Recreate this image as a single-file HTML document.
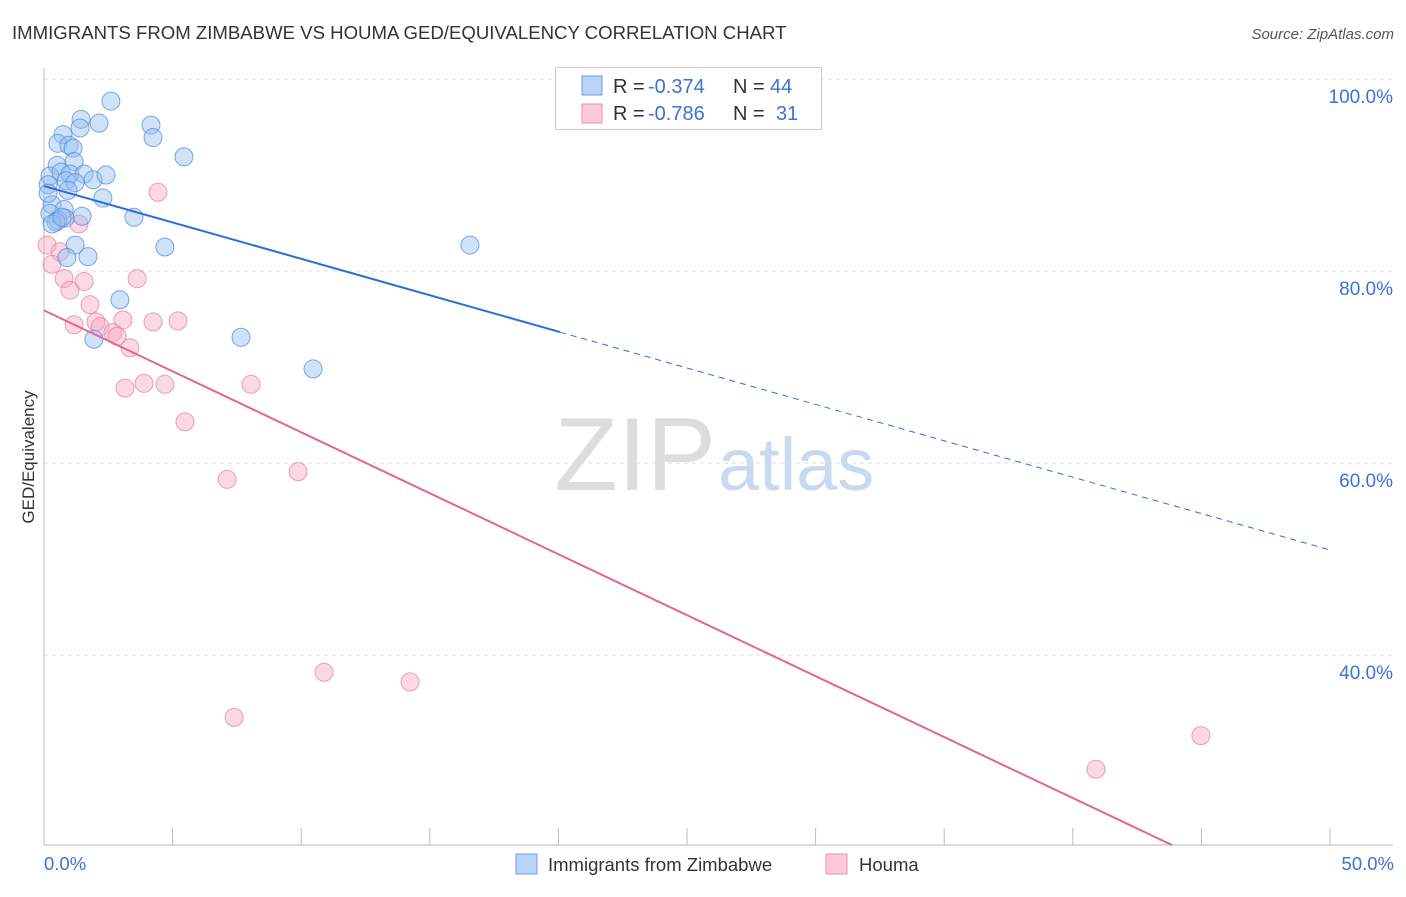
<!DOCTYPE html>
<html><head><meta charset="utf-8"><style>
body{margin:0;background:#fff;font-family:"Liberation Sans",sans-serif;}
svg text{font-family:"Liberation Sans",sans-serif;}
</style></head><body>
<svg id="c" width="1406" height="892">
<text x="12" y="39" font-size="18.6" fill="#333">IMMIGRANTS FROM ZIMBABWE VS HOUMA GED/EQUIVALENCY CORRELATION CHART</text>
<text x="1394" y="39" font-size="15" fill="#555" font-style="italic" text-anchor="end">Source: ZipAtlas.com</text>
<text x="716" y="490" font-size="104" fill="#ddd" text-anchor="end" font-family="Liberation Serif">ZIP</text>
<text x="718" y="490" font-size="74" fill="#c9d9ef">atlas</text>
<g id="grid"></g>
<g id="marks"></g>
<text transform="translate(34,457) rotate(-90)" font-size="17" fill="#333" text-anchor="middle">GED/Equivalency</text>
<text x="44" y="870" font-size="18.5" fill="#3b72d6">0.0%</text>
<text x="1394" y="870" font-size="18.5" fill="#3b72d6" text-anchor="end">50.0%</text>
<g>
<rect x="555.5" y="67.5" width="266" height="62" fill="#fff" stroke="#ccc"/>
<rect x="582" y="76" width="20" height="19" fill="#b8d3f5" stroke="#6b9be0"/>
<rect x="582" y="104" width="20" height="19" fill="#fbc9d7" stroke="#ea8fab"/>
<text x="613" y="93" font-size="20" fill="#333">R =</text>
<text x="648" y="93" font-size="20" fill="#3b72d6">-0.374</text>
<text x="733" y="93" font-size="20" fill="#333">N =</text>
<text x="770" y="93" font-size="20" fill="#3b72d6">44</text>
<text x="613" y="120" font-size="20" fill="#333">R =</text>
<text x="648" y="120" font-size="20" fill="#3b72d6">-0.786</text>
<text x="733" y="120" font-size="20" fill="#333">N =</text>
<text x="776" y="120" font-size="20" fill="#3b72d6">31</text>
</g>
<g>
<rect x="516" y="854" width="21" height="20" fill="#b8d3f5" stroke="#6b9be0"/>
<text x="548" y="871" font-size="18.5" fill="#333">Immigrants from Zimbabwe</text>
<rect x="826" y="854" width="21" height="20" fill="#fbc9d7" stroke="#ea8fab"/>
<text x="859" y="871" font-size="18.5" fill="#333">Houma</text>
</g>
</svg>
<script>
const blueX=[2.60,1.44,1.40,2.14,4.16,4.24,0.74,0.54,0.97,1.13,5.44,0.51,1.17,0.23,0.66,1.01,1.56,1.91,2.41,0.86,1.21,0.93,0.16,2.29,0.31,0.78,0.23,1.48,3.50,0.82,0.54,0.47,0.31,1.21,4.70,16.56,1.71,0.89,2.95,1.94,7.66,10.46,0.16,0.70];
const blueY=[97.7,95.8,94.9,95.4,95.2,93.9,94.2,93.3,93.1,92.8,91.9,91.0,91.4,89.9,90.3,90.1,90.1,89.5,90.0,89.4,89.2,88.4,89.0,87.6,86.9,86.4,86.0,85.7,85.6,85.5,85.3,85.1,84.9,82.7,82.5,82.7,81.5,81.4,77.0,72.9,73.1,69.8,88.1,85.6];
const pinkX=[0.12,0.62,0.31,4.43,1.36,0.78,1.56,1.01,3.62,1.79,1.17,2.02,2.18,3.07,4.24,5.21,2.68,2.84,3.34,3.89,3.15,4.70,8.05,5.48,7.12,9.88,10.89,14.23,7.39,44.98,40.90];
const pinkY=[82.7,82.0,80.7,88.2,84.9,79.2,78.9,78.0,79.2,76.5,74.4,74.7,74.2,74.9,74.7,74.8,73.6,73.2,72.0,68.3,67.8,68.2,68.2,64.3,58.3,59.1,38.2,37.2,33.5,31.6,28.1];
const blueTrend=[88.85,50.94]; // y at x=0, x=50
const pinkTrend=[75.9,12.4];
const yTicks=[100,80,60,40];
const yTickLabels=["100.0%","80.0%","60.0%","40.0%"];
const xTicks=[0,5,10,15,20,25,30,35,40,45,50];
const yMin=20.2;
const NS="http://www.w3.org/2000/svg";
const sx=v=>44+v*25.72, sy=v=>79+(100-v)*9.6;
function mk(t,a,p){const e=document.createElementNS(NS,t);for(const k in a)e.setAttribute(k,a[k]);p.appendChild(e);return e;}
const g=document.getElementById('grid'),m=document.getElementById('marks');
yTicks.forEach((t,i)=>{
 const l=mk('line',{x1:44,x2:1393,y1:sy(t),y2:sy(t),stroke:'#ddd','stroke-dasharray':'4,4'},g);
 
 
 const tx=mk('text',{x:1393,y:sy(t)+24,'font-size':19,fill:'#3b72d6','text-anchor':'end'},g);
 tx.textContent=yTickLabels[i];
 
 
});
const ax=mk('line',{x1:44,x2:44,y1:68,y2:845,stroke:'#bbb'},g);


const bx=mk('line',{x1:44,x2:1393,y1:845,y2:845,stroke:'#bbb'},g);


xTicks.forEach(t=>{const l=mk('line',{x1:sx(t),x2:sx(t),y1:828,y2:845,stroke:'#bbb'},g);
 
 });
pinkX.forEach((x,i)=>{const c=mk('circle',{cx:sx(x),cy:sy(pinkY[i]),r:9,fill:'rgba(246,168,192,0.45)',stroke:'rgba(230,130,160,0.75)'},m);
 
 });
blueX.forEach((x,i)=>{const c=mk('circle',{cx:sx(x),cy:sy(blueY[i]),r:9,fill:'rgba(150,190,240,0.45)',stroke:'rgba(80,140,220,0.75)'},m);
 
 });
const bAt=x=>blueTrend[0]+(blueTrend[1]-blueTrend[0])*x/50;
const bs=mk('line',{x1:sx(0),y1:sy(bAt(0)),x2:sx(20.06),y2:sy(bAt(20.06)),stroke:'#2a6fd8','stroke-width':2},m);


const bd=mk('line',{x1:sx(20.06),y1:sy(bAt(20.06)),x2:sx(50),y2:sy(bAt(50)),stroke:'#2a6fd8','stroke-width':1,'stroke-dasharray':'6,5'},m);


const pSlope=(pinkTrend[1]-pinkTrend[0])/50;
const xEnd=Math.min(50,(yMin-pinkTrend[0])/pSlope);
const pl=mk('line',{x1:sx(0),y1:sy(pinkTrend[0]),x2:sx(xEnd),y2:sy(pinkTrend[0]+pSlope*xEnd),stroke:'#e56590','stroke-width':2},m);


</script>
</body></html>
